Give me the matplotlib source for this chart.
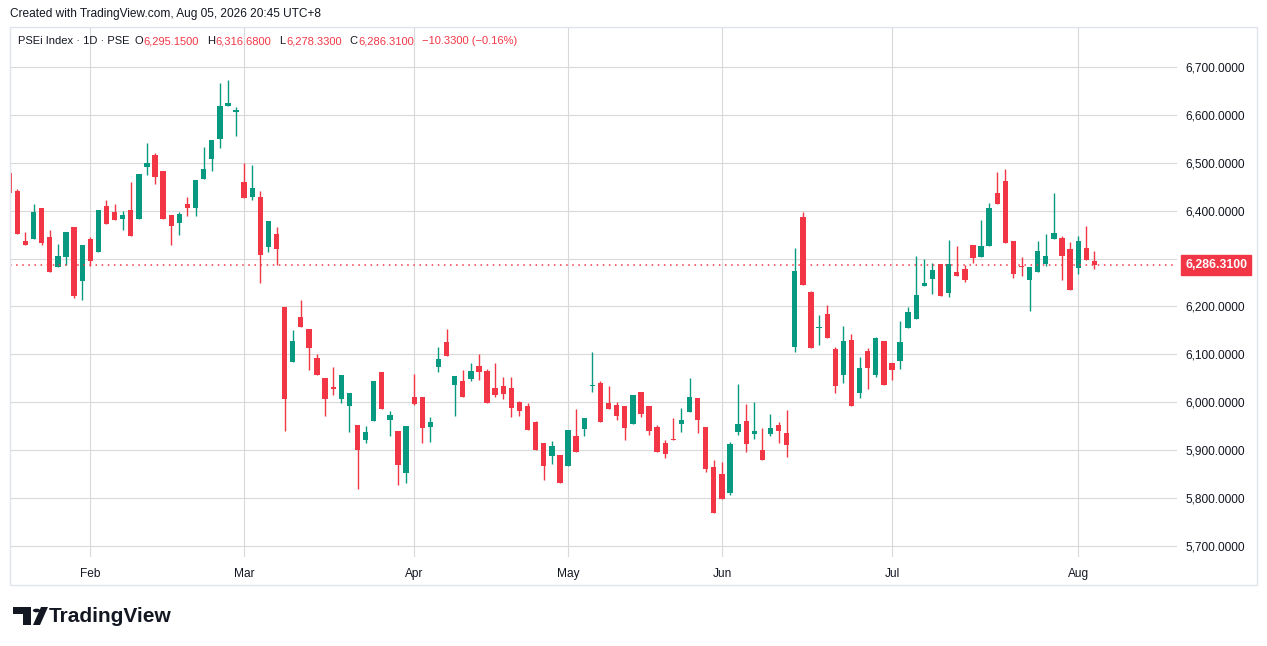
import matplotlib
matplotlib.use('Agg')
import matplotlib.pyplot as plt
from matplotlib.patches import Rectangle, Circle, Polygon
import numpy as np

# daily candles, PSEi, mid Jan -> Aug 5 2026
opens = [6479, 6442, 6336, 6340, 6405, 6346, 6283, 6303, 6365, 6253,
         6340, 6313, 6409, 6398, 6382, 6402, 6382, 6491, 6517, 6482,
         6390, 6374, 6413, 6405, 6467, 6507, 6549, 6619, 6605, 6460,
         6428, 6429, 6324, 6352, 6199, 6085, 6178, 6153, 6092, 6051,
         6032, 6006, 5993, 5953, 5922, 5960, 6063, 5964, 5940, 5852,
         6011, 6011, 5949, 6074, 6125, 6036, 6044, 6048, 6075, 6065,
         6029, 6033, 6029, 6001, 5992, 5959, 5915, 5887, 5890, 5866,
         5930, 5945, 6035, 6040, 5998, 5994, 5992, 5954, 6022, 5992,
         5949, 5915, 5924, 5954, 5979, 6009, 5949, 5865, 5851, 5810,
         5939, 5961, 5933, 5901, 5933, 5953, 5936, 6116, 6386, 6230,
         6155, 6184, 6111, 6058, 6130, 6020, 6107, 6058, 6128, 6082,
         6087, 6156, 6174, 6243, 6258, 6288, 6229, 6272, 6278, 6328,
         6304, 6326, 6437, 6461, 6336, 6285, 6256, 6272, 6289, 6341,
         6342, 6319, 6281, 6322, 6295.15]
highs = [6482, 6446, 6356, 6413, 6405, 6359, 6331, 6356, 6365, 6329,
         6345, 6402, 6423, 6413, 6400, 6459, 6476, 6542, 6520, 6482,
         6390, 6397, 6428, 6465, 6533, 6548, 6666, 6673, 6617, 6499,
         6496, 6442, 6379, 6365, 6199, 6151, 6213, 6153, 6101, 6051,
         6074, 6057, 6020, 5953, 5951, 6045, 6063, 5982, 5940, 5951,
         6059, 6011, 5970, 6115, 6152, 6054, 6067, 6081, 6100, 6069,
         6081, 6052, 6052, 6003, 5999, 5961, 5915, 5919, 5890, 5942,
         5986, 5967, 6106, 6044, 6033, 6000, 5992, 6015, 6022, 5992,
         5953, 5922, 5967, 5988, 6051, 6009, 5949, 5880, 5876, 5917,
         6039, 5997, 6001, 5947, 5976, 5959, 5984, 6322, 6397, 6232,
         6182, 6203, 6115, 6159, 6143, 6095, 6113, 6137, 6128, 6082,
         6170, 6199, 6305, 6299, 6290, 6288, 6338, 6326, 6286, 6328,
         6380, 6417, 6480, 6488, 6336, 6303, 6282, 6336, 6351, 6436,
         6347, 6334, 6347, 6369, 6316.68]
lows = [6437, 6351, 6328, 6340, 6328, 6271, 6283, 6287, 6217, 6213,
        6284, 6313, 6372, 6380, 6359, 6347, 6382, 6474, 6455, 6382,
        6329, 6349, 6389, 6388, 6467, 6482, 6530, 6619, 6555, 6426,
        6422, 6250, 6313, 6286, 5941, 6085, 6158, 6068, 6058, 5972,
        6016, 5999, 5937, 5818, 5914, 5960, 5985, 5929, 5827, 5831,
        5995, 5914, 5918, 6064, 6097, 5972, 6011, 6044, 6047, 5999,
        6011, 6007, 5970, 5972, 5943, 5901, 5837, 5872, 5832, 5866,
        5897, 5930, 6022, 5959, 5986, 5962, 5922, 5954, 5970, 5931,
        5897, 5883, 5922, 5939, 5979, 5935, 5854, 5768, 5799, 5806,
        5931, 5897, 5924, 5879, 5929, 5914, 5885, 6106, 6245, 6114,
        6120, 6135, 6020, 6041, 5992, 6008, 6027, 6052, 6037, 6047,
        6070, 6156, 6174, 6243, 6227, 6222, 6220, 6264, 6252, 6290,
        6304, 6326, 6414, 6333, 6260, 6264, 6191, 6272, 6285, 6341,
        6256, 6235, 6268, 6296.64, 6278.33]
closes = [6437, 6351, 6328, 6398, 6332, 6271, 6306, 6356, 6221, 6329,
          6296, 6402, 6372, 6380, 6390, 6347, 6476, 6499, 6470, 6382,
          6368, 6394, 6405, 6465, 6488, 6548, 6619, 6625, 6610, 6426,
          6447, 6307, 6379, 6320, 6006, 6128, 6158, 6114, 6058, 6006,
          6027, 6057, 6020, 5900, 5938, 6045, 5985, 5974, 5870, 5951,
          5996, 5947, 5959, 6090, 6097, 6054, 6011, 6065, 6063, 5999,
          6015, 6018, 5988, 5982, 5943, 5901, 5866, 5909, 5832, 5942,
          5897, 5967, 6036, 5959, 5986, 5972, 5947, 6015, 5976, 5941,
          5897, 5893, 5922, 5963, 6011, 5964, 5860, 5768, 5799, 5913,
          5955, 5912, 5940, 5879, 5947, 5941, 5910, 6274, 6245, 6114,
          6156, 6135, 6035, 6128, 5992, 6072, 6072, 6134, 6037, 6068,
          6125, 6188, 6224, 6249, 6276, 6222, 6288, 6264, 6256, 6301,
          6326, 6405, 6414, 6333, 6268, 6283, 6282, 6315, 6305, 6353,
          6306, 6235, 6336, 6296.64, 6286.31]

month_labels = ['Feb', 'Mar', 'Apr', 'May', 'Jun', 'Jul', 'Aug']
month_first_bar = [10, 29, 50, 69, 88, 109, 132]
price_ticks = [5700, 5800, 5900, 6000, 6100, 6200, 6300, 6400, 6500, 6600, 6700]
last_price = 6286.31

UP = '#089981'
DOWN = '#F23645'
TXT = '#131722'
GRID = '#d9d9d9'
W, H = 1267, 646

plt.rcParams['font.family'] = ['Liberation Sans', 'DejaVu Sans']

fig = plt.figure(figsize=(W / 100, H / 100), dpi=100)
fig.patch.set_facecolor('white')


def fx(px):
    return px / W


def fy(py):
    return 1 - py / H


# plot pane: x 10..1177, y 28..557 px
ax = fig.add_axes([fx(10), fy(557), fx(1177) - fx(10), fy(28) - fy(557)])
ax.set_facecolor('white')

o = np.array(opens, float)
h = np.array(highs, float)
l = np.array(lows, float)
c = np.array(closes, float)
x = np.arange(len(o))
cols = np.where(c >= o, UP, DOWN)

ax.vlines(x, l, h, colors=cols, linewidth=1.0, zorder=3)
body_lo = np.minimum(o, c)
body_h = np.maximum(np.abs(c - o), 2.0)
ax.bar(x, body_h, bottom=body_lo, width=0.66, color=cols, linewidth=0, zorder=4)

ax.axhline(last_price, color=DOWN, linestyle=(0, (1, 3)), linewidth=1.1, zorder=5)

ax.set_xlim(0.086, 144.2)
ax.set_ylim(5677, 6781.4)

ax.set_xticks(month_first_bar)
ax.set_xticklabels(month_labels)
ax.set_yticks(price_ticks)
ax.set_yticklabels([f'{v:,.4f}' for v in price_ticks])
ax.yaxis.tick_right()
ax.tick_params(axis='x', length=0, pad=8, labelsize=8.6, colors=TXT)
ax.tick_params(axis='y', length=0, pad=5.8, labelsize=8.6, colors=TXT)
ax.grid(True, color=GRID, linewidth=0.8, zorder=0)
ax.set_axisbelow(True)
for s in ax.spines.values():
    s.set_visible(False)

# last price tag on the price scale (covers the 6,300 label like the original)
ax.annotate(f'{last_price:,.4f}', xy=(1.0, last_price),
            xycoords=('axes fraction', 'data'),
            xytext=(5.8, 0), textcoords='offset points',
            ha='left', va='center', fontsize=8.8, color='white',
            fontweight='bold',
            bbox=dict(boxstyle='square,pad=0.3', fc=DOWN, ec=DOWN),
            annotation_clip=False, zorder=10)

# pane border
fig.patches.append(Rectangle((fx(10), fy(585)), fx(1257) - fx(10), fy(27) - fy(585),
                             transform=fig.transFigure, fill=False,
                             edgecolor='#e0e3eb', linewidth=1.0))

# header
fig.text(fx(10), fy(14), 'Created with TradingView.com, Aug 05, 2026 20:45 UTC+8',
         ha='left', va='center', fontsize=8.6, color=TXT)

# legend row, laid out piece by piece
renderer = fig.canvas.get_renderer()
LEG_FS = 8.0
pieces = [('PSEi Index \u00b7 1D \u00b7 PSE', TXT, 5),
          ('O', TXT, 0.6), ('6,295.1500', DOWN, 8),
          ('H', TXT, 0.6), ('6,316.6800', DOWN, 8),
          ('L', TXT, 0.6), ('6,278.3300', DOWN, 8),
          ('C', TXT, 0.6), ('6,286.3100', DOWN, 8),
          ('\u221210.3300 (\u22120.16%)', DOWN, 0)]
cur = 18.0
for s, col, gap in pieces:
    t = fig.text(fx(cur), fy(41), s, ha='left', va='center', fontsize=LEG_FS, color=col)
    cur = t.get_window_extent(renderer).x1 + gap

# TradingView logo, bottom left
logo = '#131722'
fig.patches.append(Polygon([(fx(13), fy(607)), (fx(31), fy(607)), (fx(31), fy(625)),
                            (fx(23), fy(625)), (fx(23), fy(614)), (fx(13), fy(614))],
                           closed=True, transform=fig.transFigure, fc=logo, ec='none'))
fig.patches.append(Circle((fx(36.5), fy(610.5)), 3.6 / W, transform=fig.transFigure,
                          fc=logo, ec='none'))
fig.patches.append(Polygon([(fx(33), fy(625)), (fx(40), fy(625)), (fx(48), fy(607)),
                            (fx(41), fy(607))],
                           closed=True, transform=fig.transFigure, fc=logo, ec='none'))
fig.text(fx(49), fy(616), 'TradingView', ha='left', va='center', fontsize=15,
         fontweight='bold', color=logo)

fig.savefig('out.png', dpi=100, facecolor='white')
